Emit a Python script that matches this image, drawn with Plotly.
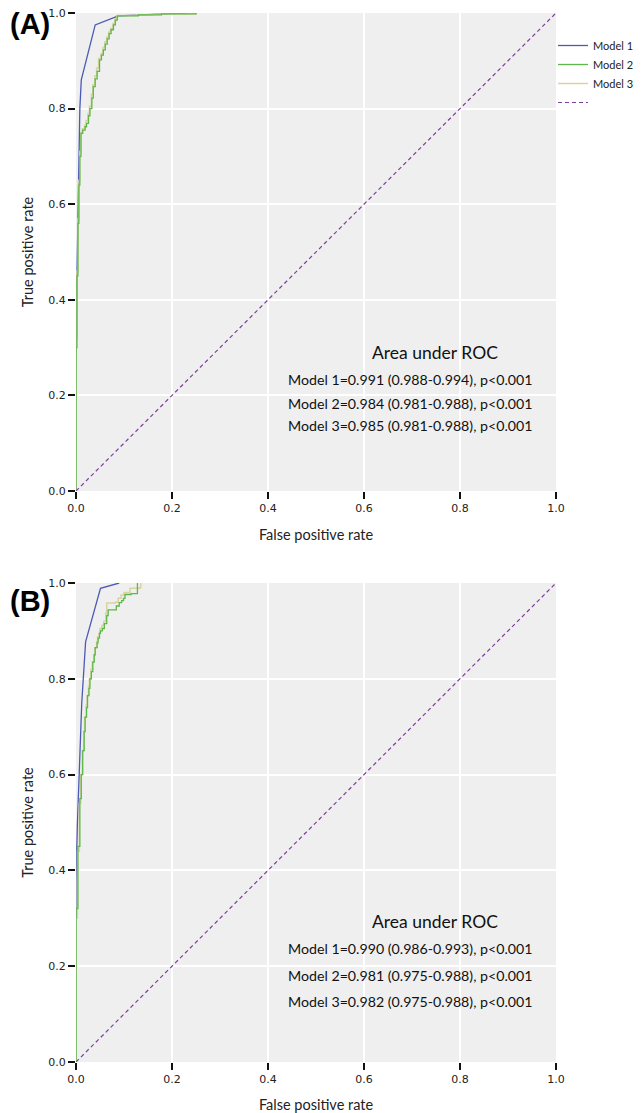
import plotly.graph_objects as go

# ---------------- data ----------------
# Panel A
m1a_x = [0, 0, 0.002, 0.005, 0.008, 0.011, 0.040, 0.088, 0.23]
m1a_y = [0, 0.25, 0.45, 0.65, 0.80, 0.86, 0.975, 0.994, 1.0]

m2a_x = [0, 0, 0.002, 0.004, 0.006, 0.008, 0.0104, 0.014, 0.019, 0.022, 0.026, 0.029, 0.033,
         0.036, 0.040, 0.044, 0.049, 0.053, 0.057, 0.061, 0.065, 0.069, 0.073, 0.078, 0.082,
         0.086, 0.10, 0.13, 0.15, 0.178, 0.25]
m2a_y = [0, 0.30, 0.45, 0.56, 0.64, 0.70, 0.748, 0.755, 0.762, 0.769, 0.785, 0.80, 0.822,
         0.846, 0.862, 0.878, 0.902, 0.912, 0.923, 0.935, 0.946, 0.957, 0.965, 0.975, 0.985,
         0.994, 0.994, 0.996, 0.996, 0.998, 1.0]

m3a_x = [0, 0, 0.002, 0.004, 0.006, 0.008, 0.010, 0.013, 0.018, 0.021, 0.025, 0.028, 0.032,
         0.035, 0.039, 0.043, 0.047, 0.052, 0.056, 0.060, 0.064, 0.068, 0.072, 0.077, 0.081,
         0.085, 0.10, 0.125, 0.15, 0.175, 0.25]
m3a_y = [0, 0.32, 0.46, 0.57, 0.65, 0.71, 0.75, 0.758, 0.765, 0.775, 0.79, 0.805, 0.83,
         0.85, 0.868, 0.885, 0.905, 0.915, 0.928, 0.94, 0.95, 0.96, 0.968, 0.978, 0.988,
         0.995, 0.995, 0.996, 0.997, 0.998, 1.0]

# Panel B
m1b_x = [0, 0, 0.003, 0.006, 0.012, 0.020, 0.051, 0.090]
m1b_y = [0, 0.38, 0.50, 0.60, 0.75, 0.877, 0.989, 1.0]

m2b_x = [0, 0, 0.004, 0.008, 0.011, 0.014, 0.017, 0.019, 0.022, 0.024, 0.027, 0.029, 0.032,
         0.035, 0.038, 0.040, 0.044, 0.046, 0.049, 0.051, 0.055, 0.059, 0.064, 0.067, 0.079,
         0.084, 0.090, 0.095, 0.099, 0.102, 0.115, 0.128, 0.128]
m2b_y = [0, 0.32, 0.45, 0.55, 0.60, 0.65, 0.69, 0.72, 0.74, 0.765, 0.78, 0.80, 0.815,
         0.835, 0.85, 0.865, 0.875, 0.885, 0.895, 0.90, 0.905, 0.915, 0.932, 0.944, 0.944,
         0.952, 0.959, 0.963, 0.968, 0.976, 0.978, 0.978, 1.0]

m3b_x = [0, 0, 0.003, 0.007, 0.010, 0.013, 0.016, 0.018, 0.021, 0.023, 0.026, 0.028, 0.031,
         0.034, 0.037, 0.039, 0.043, 0.045, 0.048, 0.050, 0.054, 0.058, 0.062, 0.064, 0.067,
         0.082, 0.088, 0.094, 0.100, 0.1125, 0.1125, 0.133, 0.135]
m3b_y = [0, 0.30, 0.44, 0.54, 0.60, 0.65, 0.69, 0.72, 0.745, 0.765, 0.785, 0.80, 0.82,
         0.835, 0.85, 0.865, 0.878, 0.888, 0.895, 0.905, 0.912, 0.92, 0.937, 0.958, 0.958,
         0.96, 0.968, 0.975, 0.98, 0.98, 0.989, 0.99, 1.0]

ref_x = [0, 1]
ref_y = [0, 1]

model_names = ["Model 1", "Model 2", "Model 3"]
auc_a = ["Model 1=0.991 (0.988-0.994), p<0.001",
         "Model 2=0.984 (0.981-0.988), p<0.001",
         "Model 3=0.985 (0.981-0.988), p<0.001"]
auc_b = ["Model 1=0.990 (0.986-0.993), p<0.001",
         "Model 2=0.981 (0.975-0.988), p<0.001",
         "Model 3=0.982 (0.975-0.988), p<0.001"]
tick_vals = [0.0, 0.2, 0.4, 0.6, 0.8, 1.0]
tick_text = ["0.0", "0.2", "0.4", "0.6", "0.8", "1.0"]

# ---------------- style ----------------
C1 = "#4b5bb5"
C2 = "#5cb947"
C3 = "#d8d4a2"
CREF = "#7d3f9c"
TXT = "Lato"

OFF = 8  # default page body margin
W, H = 644 - OFF, 1113 - OFF

def px(x):
    return (x - OFF) / W

def py(y):
    return 1 - (y - OFF) / H

xd = [px(76), px(556)]
ya = [py(491), py(13)]
yb = [py(1062), py(583)]

fig = go.Figure()

def add_panel(xa, ya_, data, show):
    (x1, y1), (x2, y2), (x3, y3) = data
    fig.add_trace(go.Scatter(x=x1, y=y1, mode="lines", name=model_names[0],
                             line=dict(color=C1, width=1.3), xaxis=xa, yaxis=ya_,
                             showlegend=show, legendrank=1))
    fig.add_trace(go.Scatter(x=x3, y=y3, mode="lines", name=model_names[2],
                             line=dict(color=C3, width=1.5, shape="hv"), xaxis=xa, yaxis=ya_,
                             showlegend=show, legendrank=3))
    fig.add_trace(go.Scatter(x=x2, y=y2, mode="lines", name=model_names[1],
                             line=dict(color=C2, width=1.3, shape="hv"), xaxis=xa, yaxis=ya_,
                             showlegend=show, legendrank=2))
    fig.add_trace(go.Scatter(x=ref_x, y=ref_y, mode="lines", name=" ",
                             line=dict(color=CREF, width=1.2, dash="4px,3px"), xaxis=xa, yaxis=ya_,
                             showlegend=show, legendrank=4))

add_panel("x", "y", [(m1a_x, m1a_y), (m2a_x, m2a_y), (m3a_x, m3a_y)], True)
add_panel("x2", "y2", [(m1b_x, m1b_y), (m2b_x, m2b_y), (m3b_x, m3b_y)], False)

axis_common = dict(range=[0, 1], tickvals=tick_vals, ticktext=tick_text, ticks="outside",
                   ticklen=7, tickwidth=2, tickcolor="#111", showline=False, zeroline=False,
                   showgrid=True, gridcolor="white", gridwidth=1.5, automargin=False,
                   ticklabeloverflow="allow",
                   tickfont=dict(family="DejaVu Sans", size=11, color="#222"))

xtitle = dict(text="False positive rate", font=dict(family=TXT, size=14.5, color="#222"), standoff=15)
ytitle = dict(text="True positive rate", font=dict(family=TXT, size=14.5, color="#222"), standoff=11)

fig.update_layout(
    width=W, height=H, margin=dict(l=0, r=0, t=0, b=0, autoexpand=False),
    paper_bgcolor="white", plot_bgcolor="#efefef",
    xaxis=dict(domain=xd, anchor="y", title=xtitle, **axis_common),
    yaxis=dict(domain=ya, anchor="x", title=ytitle, **axis_common),
    xaxis2=dict(domain=xd, anchor="y2", title=xtitle, **axis_common),
    yaxis2=dict(domain=yb, anchor="x2", title=ytitle, **axis_common),
    legend=dict(x=px(553), y=py(31), xanchor="left", yanchor="top",
                font=dict(family=TXT, size=11, color="#222"), itemwidth=30,
                bgcolor="rgba(0,0,0,0)", tracegroupgap=0, borderwidth=0),
    showlegend=True,
)

ann = []
ann.append(dict(text="<b>(A)</b>", x=0, y=py(24), xref="paper", yref="paper",
                xanchor="left", yanchor="middle", showarrow=False,
                font=dict(family="Liberation Sans", size=29, color="black")))
ann.append(dict(text="<b>(B)</b>", x=0, y=py(601), xref="paper", yref="paper",
                xanchor="left", yanchor="middle", showarrow=False,
                font=dict(family="Liberation Sans", size=29, color="black")))

def add_auc(xr, yr, lines, ys, ytitle_):
    ann.append(dict(text="Area under ROC", x=0.748, y=ytitle_, xref=xr, yref=yr,
                    showarrow=False, font=dict(family=TXT, size=17.5, color="#111")))
    for t, yy in zip(lines, ys):
        ann.append(dict(text=t, x=0.695, y=yy, xref=xr, yref=yr, showarrow=False,
                        font=dict(family=TXT, size=14.2, color="#111")))

add_auc("x", "y", auc_a, [0.234, 0.183, 0.138], 0.289)
add_auc("x2", "y2", auc_b, [0.237, 0.181, 0.126], 0.293)

fig.update_layout(annotations=ann)

fig.write_html("out.html")
